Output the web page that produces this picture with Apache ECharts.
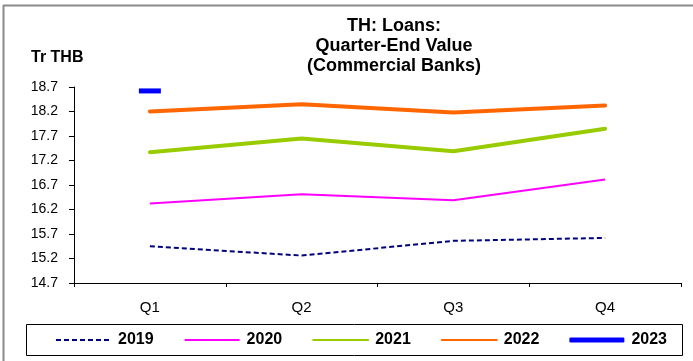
<!DOCTYPE html>
<html>
<head>
<meta charset="utf-8">
<script src="https://cdn.jsdelivr.net/npm/echarts@6/dist/echarts.min.js"></script>
<style>
html,body{margin:0;padding:0;background:#fff;}
#chart{width:693px;height:361px;}
</style>
</head>
<body>
<div id="chart"></div>
<script>
const categories = ['Q1', 'Q2', 'Q3', 'Q4'];
const s2019 = [15.45, 15.26, 15.56, 15.62];
const s2020 = [16.32, 16.51, 16.39, 16.81];
const s2021 = [17.37, 17.65, 17.39, 17.85];
const s2022 = [18.20, 18.35, 18.18, 18.32];
const s2023 = [18.62, '-', '-', '-'];
const seriesNames = ['2019', '2020', '2021', '2022', '2023'];
const yMin = 14.7, yMax = 18.7, yStep = 0.5;

const FONT = '"Liberation Sans", Arial, sans-serif';
const chart = echarts.init(document.getElementById('chart'), null, {renderer: 'canvas'});

const option = {
  backgroundColor: '#fff',
  animation: false,
  textStyle: {fontFamily: FONT},
  title: [
    {
      text: 'TH: Loans:\nQuarter-End Value\n(Commercial Banks)',
      left: 394, top: 16, padding: 0, textAlign: 'center',
      textStyle: {fontFamily: FONT, fontSize: 18, fontWeight: 'bold', color: '#000', lineHeight: 20}
    },
    {
      text: 'Tr THB', left: 31, top: 50, padding: 0,
      textStyle: {fontFamily: FONT, fontSize: 16, fontWeight: 'bold', color: '#000'}
    }
  ],
  grid: {left: 74, right: 12, top: 87, bottom: 78, containLabel: false},
  xAxis: {
    type: 'category', data: categories, boundaryGap: true,
    axisLine: {lineStyle: {color: '#000', width: 1}},
    axisTick: {show: true, length: 4, alignWithLabel: false, lineStyle: {color: '#000'}},
    axisLabel: {fontFamily: FONT, fontSize: 15, color: '#000', margin: 17},
    splitLine: {show: false}
  },
  yAxis: {
    type: 'value', min: yMin, max: yMax, interval: yStep,
    axisLine: {show: true, lineStyle: {color: '#000', width: 1}},
    axisTick: {show: true, length: 5, lineStyle: {color: '#000'}},
    axisLabel: {fontFamily: FONT, fontSize: 14, color: '#000', margin: 16,
      formatter: v => v.toFixed(1)},
    splitLine: {show: false}
  },
  legend: {
    left: 55, top: 332, padding: 0, itemGap: 30, itemWidth: 55, itemHeight: 5,
    itemStyle: {opacity: 0},
    textStyle: {fontFamily: FONT, fontSize: 16, fontWeight: 'bold', color: '#000', padding: [0, 0, 0, 2]},
    data: [
      {name: seriesNames[0]}, {name: seriesNames[1]}, {name: seriesNames[2]}, {name: seriesNames[3]},
      {name: seriesNames[4], icon: 'roundRect', itemStyle: {opacity: 1}}
    ]
  },
  series: [
    {name: seriesNames[0], type: 'line', data: s2019, symbol: 'none',
      lineStyle: {color: '#000080', width: 2, type: [5, 3]}, itemStyle: {color: '#000080'}},
    {name: seriesNames[1], type: 'line', data: s2020, symbol: 'none',
      lineStyle: {color: '#FF00FF', width: 2}, itemStyle: {color: '#FF00FF'}},
    {name: seriesNames[2], type: 'line', data: s2021, symbol: 'none',
      lineStyle: {color: '#99CC00', width: 4, cap: 'round'}, itemStyle: {color: '#99CC00'}},
    {name: seriesNames[3], type: 'line', data: s2022, symbol: 'none',
      lineStyle: {color: '#FF6600', width: 4, cap: 'round'}, itemStyle: {color: '#FF6600'}},
    {name: seriesNames[4], type: 'line', data: s2023, symbol: 'rect', symbolSize: [22, 5], showSymbol: true,
      lineStyle: {color: '#0000FF', width: 5}, itemStyle: {color: '#0000FF'}}
  ],
  graphic: [
    {type: 'line', shape: {x1: 3.5, y1: 5, x2: 3.5, y2: 361}, style: {stroke: '#8a8a8a', lineWidth: 2}, silent: true},
    {type: 'line', shape: {x1: 3, y1: 5.5, x2: 693, y2: 5.5}, style: {stroke: '#8a8a8a', lineWidth: 2}, silent: true},
    {type: 'rect', shape: {x: 26.5, y: 324.5, width: 656, height: 31}, style: {fill: 'none', stroke: '#000', lineWidth: 1}, silent: true, z: -1}
  ]
};
chart.setOption(option);
</script>
</body>
</html>
